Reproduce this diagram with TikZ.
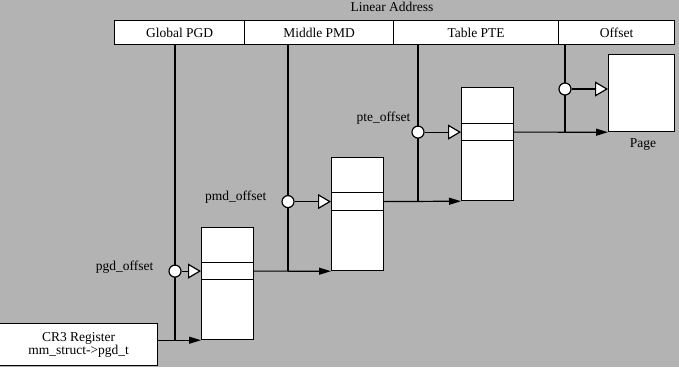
\documentclass[tikz,border=0pt]{standalone}
\usepackage{fontspec}
\setmainfont{Liberation Serif}
\usetikzlibrary{arrows.meta}
\definecolor{bg}{RGB}{179,179,179}
\begin{document}
\begin{tikzpicture}[x=1pt,y=-1pt,line width=1.2pt,
  font=\fontsize{13.5}{15}\selectfont,
  cell/.style={draw,fill=white,inner sep=0pt,anchor=north west,minimum height=24pt},
  tbl/.style={draw,fill=white,inner sep=0pt,anchor=north west,minimum width=52pt},
  joint/.style={circle,draw,fill=white,inner sep=0pt,minimum size=12pt},
  sel/.style={-{Triangle[length=13pt,width=15pt,fill=white,line width=1.2pt]}},
  nxt/.style={-{Triangle[length=12pt,width=7pt]}},
  lbl/.style={inner sep=0pt,anchor=east}]
\fill[bg] (0,0) rectangle (679,367);
\useasboundingbox (0,0) rectangle (679,367);

% header
\node[inner sep=0pt] (la) at (392,7) {Linear Address};
\node[cell,minimum width=130pt] (hg) at (114,20) {Global PGD};
\node[cell,minimum width=149pt] (hm) at (244,20) {Middle PMD};
\node[cell,minimum width=165pt] (ht) at (393,20) {Table PTE};
\node[cell,minimum width=116pt] (ho) at (558,20) {Offset};

% tables
\node[tbl,minimum height=112pt] (b1) at (201,227) {};
\node[tbl,minimum height=17pt] (r1) at (201,262) {};
\node[tbl,minimum height=113pt] (b2) at (331,157) {};
\node[tbl,minimum height=18pt] (r2) at (331,192) {};
\node[tbl,minimum height=113pt] (b3) at (461,87) {};
\node[tbl,minimum height=17pt] (r3) at (461,123) {};
\node[draw,fill=white,inner sep=0pt,anchor=north west,minimum width=66pt,minimum height=77pt] (pg) at (608,54) {};
\node[inner sep=0pt] (pgl) at (643,145) {Page};

% CR3
\node[draw,fill=white,inner sep=0pt,anchor=north west,minimum width=158pt,minimum height=42pt,align=center] (cr3) at (-1,323) {CR3 Register\\[-2pt]mm\_struct->pgd\_t};

% vertical lines from linear address
\coordinate (v1) at (175,44);
\coordinate (v2) at (288,44);
\coordinate (v3) at (418,44);
\coordinate (v4) at (565,44);
\draw (v1) -- (v1 |- b1.south);
\draw (v2) -- (v2 |- b2.south);
\draw (v3) -- (v3 |- b3.south);
\draw (v4) -- (v4 |- pg.south);

% next-level arrows
\draw[nxt] (cr3.east |- b1.south west) -- (b1.south west);
\draw[nxt] (r1.east) -- (b2.south west);
\draw[nxt] (r2.east) -- (b3.south west);
\draw[nxt] (r3.east) -- (pg.south west);

% offset selectors
\node[joint] (c1) at (v1 |- r1.west) {};
\node[joint] (c2) at (v2 |- r2.west) {};
\node[joint] (c3) at (v3 |- r3.west) {};
\node[joint] (c4) at (565,89) {};
\draw[sel] (c1) -- (r1.west);
\draw[sel] (c2) -- (r2.west);
\draw[sel] (c3) -- (r3.west);
\draw[sel] (c4) -- (c4 -| pg.west);

% labels
\node[lbl] (l1) at (154,267) {pgd\_offset};
\node[lbl] (l2) at (267,197) {pmd\_offset};
\node[lbl] (l3) at (411,118) {pte\_offset};
\end{tikzpicture}
\end{document}
